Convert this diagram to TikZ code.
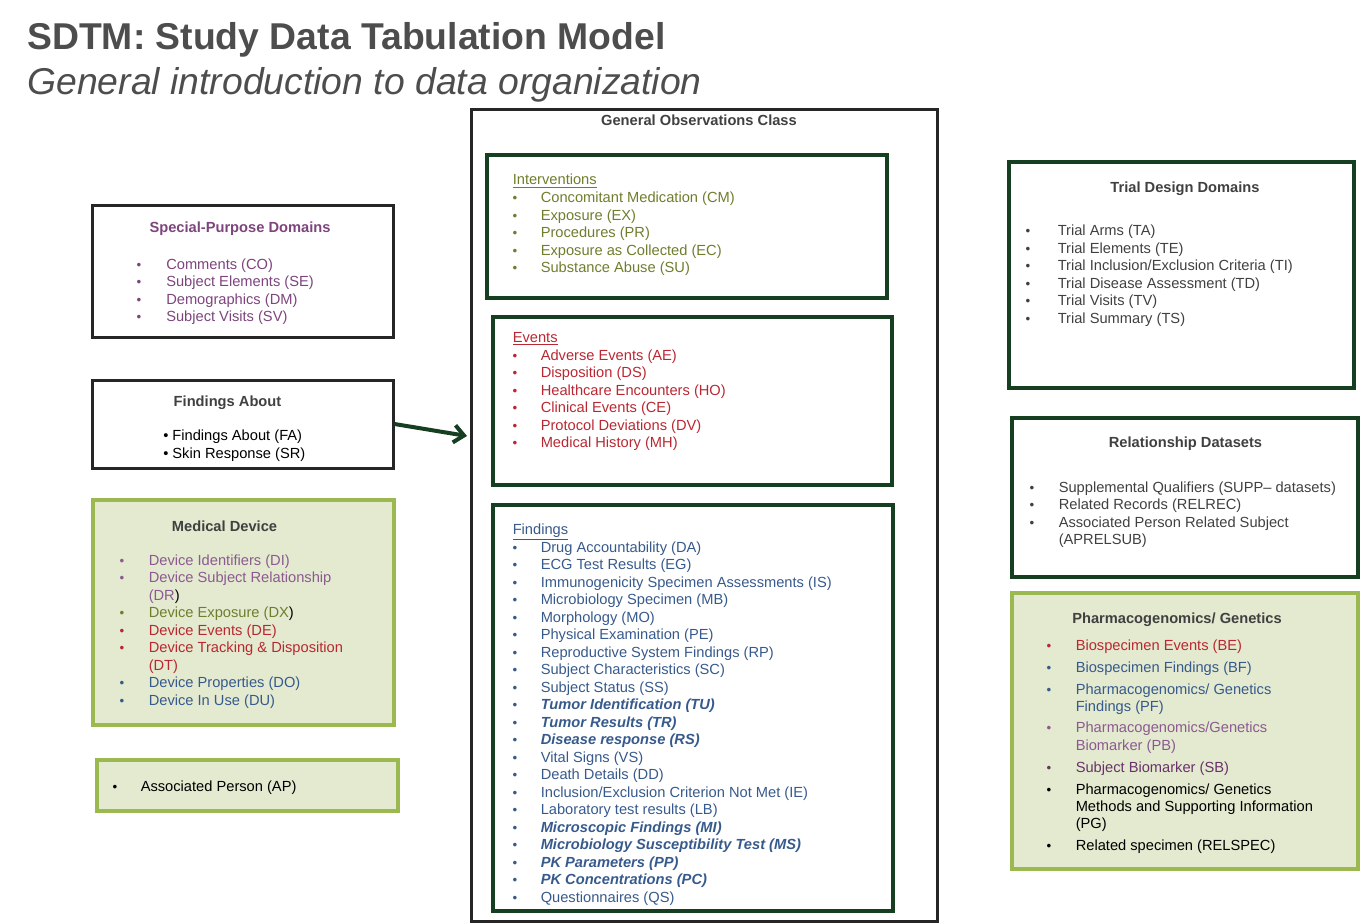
\documentclass[tikz,border=0pt]{standalone}
\usepackage{fontspec}
\setmainfont{Liberation Sans}
\usepackage{xcolor}
\definecolor{titlegray}{RGB}{77,77,77}
\definecolor{textgray}{RGB}{64,64,64}
\definecolor{boxblack}{RGB}{38,38,38}
\definecolor{darkgreen}{RGB}{22,62,32}
\definecolor{leafgreen}{RGB}{155,185,80}
\definecolor{palegreen}{RGB}{227,234,207}
\definecolor{sppurple}{RGB}{125,68,125}
\definecolor{lightpurple}{RGB}{140,90,145}
\definecolor{deeppurple}{RGB}{105,50,105}
\definecolor{myolive}{RGB}{112,125,45}
\definecolor{myred}{RGB}{185,40,50}
\definecolor{myblue}{RGB}{55,90,140}
\usepackage{tikz}
\usetikzlibrary{positioning}
\usetikzlibrary{arrows.meta}
\usetikzlibrary{fit}

\tikzset{
  blackbox/.style={draw=boxblack, line width=2.25pt, inner sep=0pt},
  greenbox/.style={draw=leafgreen, fill=palegreen, line width=2.6pt, inner sep=0pt},
  classbox/.style={draw=darkgreen, line width=3pt, inner sep=0pt},
  heading/.style={anchor=base, inner sep=0pt, text=textgray, font=\fontsize{11}{13}\selectfont\bfseries},
  entry/.style={anchor=base west, inner sep=0pt},
  dot/.style={anchor=base, inner sep=0pt, font=\fontsize{10}{12}\selectfont},
  flowarrow/.style={draw=darkgreen, line width=3pt, -{Straight Barb[length=7.5pt,width=13pt]}}
}

\begin{document}
\begin{tikzpicture}[x=0.75pt, y=-0.75pt, every node/.style={font=\fontsize{11}{13}\selectfont}]
  \useasboundingbox (0,0) rectangle (1372,924);

  % title
  \node[anchor=base west, inner sep=0pt, text=titlegray, font=\fontsize{28}{32}\selectfont\bfseries] (title) at (27,49.5) {SDTM: Study Data Tabulation Model};
  \node[anchor=base west, inner sep=0pt, text=titlegray, font=\fontsize{28}{32}\selectfont\itshape] (subtitle) at (27,95) {General introduction to data organization};

  % boxes
  \node[blackbox, fit={(92,205) (393,337)}] (spd) {};
  \node[blackbox, fit={(92,380) (393,468)}] (fa) {};
  \node[greenbox, fit={(93,500) (394,725)}] (md) {};
  \node[greenbox, fit={(97,760) (398,811)}] (ap) {};
  \node[blackbox, fit={(471,110) (937,921)}] (goc) {};
  \node[classbox, fit={(487,155) (887,298)}] (int) {};
  \node[classbox, fit={(493,317) (892,485)}] (ev) {};
  \node[classbox, fit={(493,505) (893,911)}] (fi) {};
  \node[classbox, fit={(1009,162) (1354,388)}] (td) {};
  \node[classbox, fit={(1012,418) (1358,577)}] (rel) {};
  \node[greenbox, fit={(1012,593) (1358,869)}] (pg) {};

  % special-purpose domains
  \node[heading, text=sppurple] (spd-head) at (240,232) {Special-Purpose Domains};
  \foreach \y/\t [count=\i] in {269/Comments (CO), 286.5/Subject Elements (SE), 304/Demographics (DM), 321.5/Subject Visits (SV)} {
    \node[dot, text=sppurple] (spd-b\i) at (139,\y) {\textbullet};
    \node[entry, text=sppurple] (spd-\i) at (166,\y) {\t};
  }

  % findings about
  \node[heading] (fa-head) at (227.5,406) {Findings About};
  \node[entry] (fa-1) at (163,440.5) {\textbullet{} Findings About (FA)};
  \node[entry] (fa-2) at (163,458) {\textbullet{} Skin Response (SR)};

  % medical device
  \node[heading] (md-head) at (224.5,531) {Medical Device};
  \foreach \y/\c/\t [count=\i] in {565/lightpurple/Device Identifiers (DI), 582.5/lightpurple/Device Subject Relationship, 617.5/myolive/Device Exposure (DX\textcolor{black}{)}, 635/myred/Device Events (DE), 652.5/myred/Device Tracking \& Disposition, 687.5/myblue/Device Properties (DO), 705/myblue/Device In Use (DU)} {
    \node[dot, text=\c] (md-b\i) at (122,\y) {\textbullet};
    \node[entry, text=\c] (md-\i) at (148.5,\y) {\t};
  }
  \node[entry, text=lightpurple] (md-dr) at (148.5,600) {(DR\textcolor{black}{)}};
  \node[entry, text=myred] (md-dt) at (148.5,670) {(DT)};

  % associated person
  \node[dot] (ap-b) at (115,791) {\textbullet};
  \node[entry] (ap-1) at (140.5,791) {Associated Person (AP)};

  % general observations class
  \node[heading] (goc-head) at (699,126) {General Observations Class};

  \node[entry, text=myolive] (int-head) at (512.5,185) {\underline{Interventions}};
  \foreach \y/\t [count=\i] in {202.5/Concomitant Medication (CM), 220/Exposure (EX), 237.5/Procedures (PR), 255/Exposure as Collected (EC), 272.5/Substance Abuse (SU)} {
    \node[dot, text=myolive] (int-b\i) at (515,\y) {\textbullet};
    \node[entry, text=myolive] (int-\i) at (540.5,\y) {\t};
  }

  \node[entry, text=myred] (ev-head) at (512.5,342.5) {\underline{Events}};
  \foreach \y/\t [count=\i] in {360/Adverse Events (AE), 377.5/Disposition (DS), 395/Healthcare Encounters (HO), 412.5/Clinical Events (CE), 430/Protocol Deviations (DV), 447.5/Medical History (MH)} {
    \node[dot, text=myred] (ev-b\i) at (515,\y) {\textbullet};
    \node[entry, text=myred] (ev-\i) at (540.5,\y) {\t};
  }

  \node[entry, text=myblue] (fi-head) at (512.5,534.5) {\underline{Findings}};
  \foreach \y/\t [count=\i] in {552/Drug Accountability (DA), 569.5/ECG Test Results (EG), 587/Immunogenicity Specimen Assessments (IS),
      604.5/Microbiology Specimen (MB), 622/Morphology (MO), 639.5/Physical Examination (PE), 657/Reproductive System Findings (RP),
      674.5/Subject Characteristics (SC), 692/Subject Status (SS), 709.5/\textbf{\textit{Tumor Identification (TU)}},
      727/\textbf{\textit{Tumor Results (TR)}}, 744.5/\textbf{\textit{Disease response (RS)}}, 762/Vital Signs (VS),
      779.5/Death Details (DD), 797/{Inclusion/Exclusion Criterion Not Met (IE)}, 814.5/Laboratory test results (LB),
      832/\textbf{\textit{Microscopic Findings (MI)}}, 849.5/\textbf{\textit{Microbiology Susceptibility Test (MS)}},
      867/\textbf{\textit{PK Parameters (PP)}}, 884.5/\textbf{\textit{PK Concentrations (PC)}}, 902/Questionnaires (QS)} {
    \node[dot, text=myblue] (fi-b\i) at (515,\y) {\textbullet};
    \node[entry, text=myblue] (fi-\i) at (540.5,\y) {\t};
  }

  % trial design domains
  \node[heading] (td-head) at (1185,192) {Trial Design Domains};
  \foreach \y/\t [count=\i] in {235.5/Trial Arms (TA), 253/Trial Elements (TE), 270.5/{Trial Inclusion/Exclusion Criteria (TI)}, 288/Trial Disease Assessment (TD), 305.5/Trial Visits (TV), 323/Trial Summary (TS)} {
    \node[dot, text=textgray] (td-b\i) at (1028,\y) {\textbullet};
    \node[entry, text=textgray] (td-\i) at (1057.5,\y) {\t};
  }

  % relationship datasets
  \node[heading] (rel-head) at (1185.5,447) {Relationship Datasets};
  \foreach \y/\t [count=\i] in {492/Supplemental Qualifiers (SUPP– datasets), 509.5/Related Records (RELREC), 527/Associated Person Related Subject} {
    \node[dot, text=textgray] (rel-b\i) at (1032,\y) {\textbullet};
    \node[entry, text=textgray] (rel-\i) at (1058.5,\y) {\t};
  }
  \node[entry, text=textgray] (rel-4) at (1058.5,544.5) {(APRELSUB)};

  % pharmacogenomics / genetics
  \node[heading] (pg-head) at (1177,623) {Pharmacogenomics/ Genetics};
  \foreach \y/\c/\t [count=\i] in {650/myred/Biospecimen Events (BE), 672/myblue/Biospecimen Findings (BF), 694/myblue/{Pharmacogenomics/ Genetics},
      732.5/lightpurple/{Pharmacogenomics/Genetics}, 772/deeppurple/Subject Biomarker (SB), 794/black/{Pharmacogenomics/ Genetics}, 850.5/black/Related specimen (RELSPEC)} {
    \node[dot, text=\c] (pg-b\i) at (1049,\y) {\textbullet};
    \node[entry, text=\c] (pg-\i) at (1075.5,\y) {\t};
  }
  \node[entry, text=myblue] (pg-pf) at (1075.5,711) {Findings (PF)};
  \node[entry, text=lightpurple] (pg-pb) at (1075.5,750) {Biomarker (PB)};
  \node[entry] (pg-pg1) at (1075.5,811) {Methods and Supporting Information};
  \node[entry] (pg-pg2) at (1075.5,828.5) {(PG)};

  % arrow into the observations class
  \coordinate (gocin) at (467,436);
  \draw[flowarrow] (fa.east) -- (gocin);
\end{tikzpicture}
\end{document}
